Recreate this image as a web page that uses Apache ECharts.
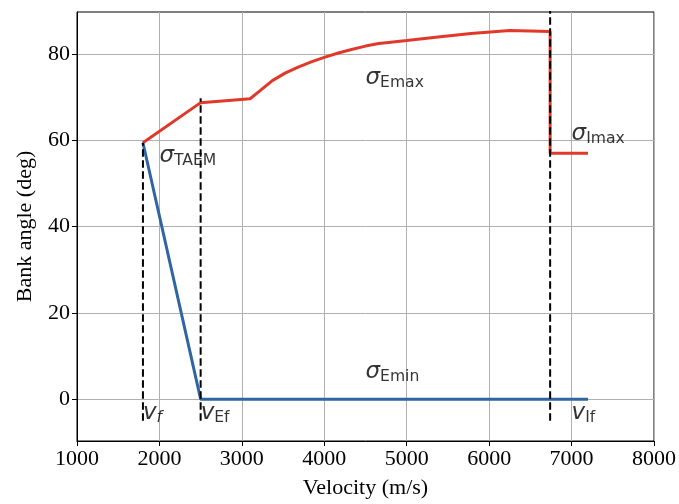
<!DOCTYPE html>
<html>
<head>
<meta charset="utf-8">
<script src="https://cdn.jsdelivr.net/npm/echarts@6/dist/echarts.min.js"></script>
<style>
  html, body { margin: 0; padding: 0; background: #fff; }
  #chart { width: 679px; height: 504px; }
</style>
</head>
<body>
<div id="chart"></div>
<script>
// upper bound curve (sigma Emax -> sigma Imax)
const velMax = [1800, 2500, 3100, 3210, 3370, 3530, 3690, 3850, 4000, 4170, 4330, 4500, 4660, 4750, 5000, 5380, 5780, 6250, 6740, 6740, 7200];
const sigmaMax = [59.4, 68.7, 69.6, 71.3, 73.8, 75.6, 77.0, 78.2, 79.2, 80.2, 81.0, 81.8, 82.4, 82.6, 83.1, 83.9, 84.7, 85.4, 85.2, 57.0, 57.0];
// lower bound curve (sigma Emin)
const velMin = [1800, 2500, 7200];
const sigmaMin = [59.4, 0, 0];
// vertical dashed markers: velocity, bottom, top
const markVel = [1800, 2500, 6740];
const markBottom = [-5, -5, -5];
const markTop = [59.4, 69.7, 95];
// text annotations
const labelX = [2000, 4500, 7000, 4500, 1800, 2500, 7000];
const labelY = [55, 73, 60, 5, -4.5, -4.5, -4.5];
const labelMain = ['σ', 'σ', 'σ', 'σ', 'v', 'v', 'v'];
const labelSub = ['TAEM', 'Emax', 'Imax', 'Emin', 'f', 'Ef', 'If'];
const subItalic = [false, false, false, false, true, false, false];
const yTicks = [0, 20, 40, 60, 80];

const chart = echarts.init(document.getElementById('chart'));

const serif = 'Liberation Serif';
const sans = 'DejaVu Sans';

const dashSeries = markVel.map((v, i) => ({
  type: 'line',
  data: [[v, markBottom[i]], [v, markTop[i]]],
  symbol: 'none',
  z: 4,
  lineStyle: { color: '#000', width: 2, type: [7.5, 3.5] },
  silent: true
}));

const option = {
  animation: false,
  grid: {
    left: 77, right: 22, top: 12, bottom: 61,
    show: true, borderColor: '#000', borderWidth: 1
  },
  xAxis: {
    type: 'value',
    min: 1000, max: 8000, interval: 1000,
    name: 'Velocity (m/s)',
    nameLocation: 'middle',
    nameGap: 36,
    nameTextStyle: { fontFamily: serif, fontSize: 22, color: '#000' },
    axisLine: { onZero: false, lineStyle: { color: '#000', width: 1 } },
    axisTick: { inside: false, length: 5, lineStyle: { color: '#000' } },
    axisLabel: { fontFamily: serif, fontSize: 22, color: '#000', margin: 7, formatter: v => String(v) },
    splitLine: { show: true, lineStyle: { color: '#b0b0b0', width: 1 } }
  },
  yAxis: {
    type: 'value',
    min: -9.7, max: 89.7,
    name: 'Bank angle (deg)',
    nameLocation: 'middle',
    nameGap: 41,
    nameTextStyle: { fontFamily: serif, fontSize: 22, color: '#000' },
    axisLine: { show: true, onZero: false, lineStyle: { color: '#000', width: 1 } },
    axisTick: { show: true, length: 5, customValues: yTicks, lineStyle: { color: '#000' } },
    axisLabel: {
      fontFamily: serif, fontSize: 22, color: '#000', margin: 7,
      customValues: yTicks, formatter: v => String(v)
    },
    splitLine: { show: true, lineStyle: { color: '#b0b0b0', width: 1 } }
  },
  series: [
    {
      type: 'line',
      data: velMax.map((v, i) => [v, sigmaMax[i]]),
      symbol: 'none',
      z: 3,
      lineStyle: { color: '#e2382a', width: 3 }
    },
    {
      type: 'line',
      data: velMin.map((v, i) => [v, sigmaMin[i]]),
      symbol: 'none',
      z: 3,
      lineStyle: { color: '#2f66a2', width: 3 }
    },
    ...dashSeries,
    {
      type: 'scatter',
      data: labelX.map((v, i) => [v, labelY[i], i]),
      symbolSize: 0,
      z: 6,
      label: {
        show: true,
        position: [0, 0],
        align: 'left',
        verticalAlign: 'bottom',
        offset: [0, 7],
        formatter: p => {
          const i = p.data[2];
          return '{m|' + labelMain[i] + '}{' + (subItalic[i] ? 'si' : 's') + '|' + labelSub[i] + '}';
        },
        rich: {
          m: { fontFamily: sans, fontStyle: 'italic', fontSize: 23, color: '#000', lineHeight: 26 },
          s: { fontFamily: sans, fontSize: 15.6, color: '#000', lineHeight: 16, verticalAlign: 'bottom' },
          si: { fontFamily: sans, fontStyle: 'italic', fontSize: 15.6, color: '#000', lineHeight: 16, verticalAlign: 'bottom' }
        }
      }
    }
  ]
};

chart.setOption(option);
</script>
</body>
</html>
